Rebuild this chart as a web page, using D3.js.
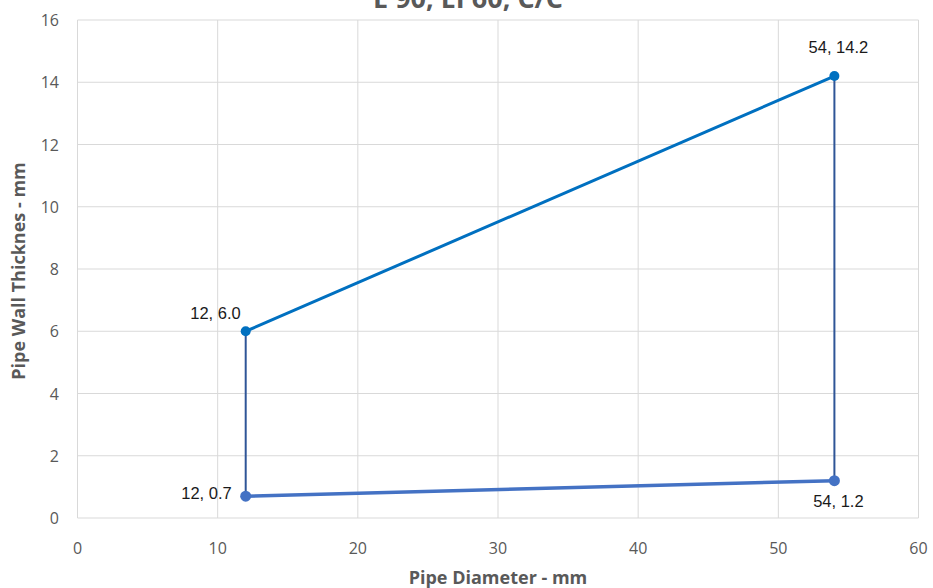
<!DOCTYPE html>
<html><head><meta charset="utf-8">
<script src="https://cdn.jsdelivr.net/npm/d3@7"></script>
<style>body{margin:0;background:#fff}svg{display:block}</style>
</head><body>
<svg id="c" width="933" height="588"></svg>
<script>
const title = "E 90, EI 60, C/C";
const xTitle = "Pipe Diameter - mm";
const yTitle = "Pipe Wall Thicknes - mm";
const xTicks = [0,10,20,30,40,50,60];
const yTicks = [0,2,4,6,8,10,12,14,16];
// series: upper limit, lower limit, verticals
const upperX = [12, 54], upperY = [6.0, 14.2];
const lowerX = [12, 54], lowerY = [0.7, 1.2];
const leftX = [12, 12], leftY = [0.7, 6.0];
const rightX = [54, 54], rightY = [1.2, 14.2];
const labels = [
  {x:12, y:6.0, t:"12, 6.0", pos:"tl"},
  {x:54, y:14.2, t:"54, 14.2", pos:"t"},
  {x:12, y:0.7, t:"12, 0.7", pos:"l"},
  {x:54, y:1.2, t:"54, 1.2", pos:"b"}
];

const svg = d3.select("#c");
const x = d3.scaleLinear().domain([0,60]).range([77.5,918.5]);
const y = d3.scaleLinear().domain([0,16]).range([518,20]);

const grid = svg.append("g");
grid.selectAll("line.v").data(xTicks).join("line")
  .attr("x1",d=>x(d)).attr("x2",d=>x(d)).attr("y1",y(0)).attr("y2",y(16))
  .attr("stroke","#d9d9d9").attr("stroke-width",1);
grid.selectAll("line.h").data(yTicks).join("line")
  .attr("y1",d=>y(d)).attr("y2",d=>y(d)).attr("x1",x(0)).attr("x2",x(60))
  .attr("stroke","#d9d9d9").attr("stroke-width",1);

const font = "'Open Sans', sans-serif";
svg.append("g").selectAll("text").data(xTicks).join("text")
  .attr("x",d=>x(d)).attr("y",554).attr("text-anchor","middle")
  .attr("font-family",font).attr("font-size",16).attr("fill","#595959").text(d=>d);
svg.append("g").selectAll("text").data(yTicks).join("text")
  .attr("x",59).attr("y",d=>y(d)+6).attr("text-anchor","end")
  .attr("font-family",font).attr("font-size",16).attr("fill","#595959").text(d=>d);

const line = d3.line().x(d=>x(d[0])).y(d=>y(d[1]));
const pairs = (xs,ys)=>xs.map((v,i)=>[v,ys[i]]);
svg.append("path").attr("d",line(pairs(leftX,leftY))).attr("fill","none").attr("stroke","#2F5597").attr("stroke-width",2);
svg.append("path").attr("d",line(pairs(rightX,rightY))).attr("fill","none").attr("stroke","#2F5597").attr("stroke-width",2);
svg.append("path").attr("d",line(pairs(upperX,upperY))).attr("fill","none").attr("stroke","#0070C0").attr("stroke-width",3);
svg.append("path").attr("d",line(pairs(lowerX,lowerY))).attr("fill","none").attr("stroke","#4472C4").attr("stroke-width",3.5);

svg.append("g").selectAll("circle").data(pairs(upperX,upperY)).join("circle")
  .attr("cx",d=>x(d[0])).attr("cy",d=>y(d[1])).attr("r",5).attr("fill","#0070C0");
svg.append("g").selectAll("circle").data(pairs(lowerX,lowerY)).join("circle")
  .attr("cx",d=>x(d[0])).attr("cy",d=>y(d[1])).attr("r",5.5).attr("fill","#4472C4");

svg.append("g").selectAll("text").data(labels).join("text")
  .attr("x",d=>x(d.x) + (d.pos==="tl"?-5:d.pos==="l"?-14:d.pos==="t"?4:4))
  .attr("y",d=>y(d.y) + (d.pos==="tl"?-12:d.pos==="t"?-23:d.pos==="l"?3:d.pos==="b"?26:0))
  .attr("text-anchor",d=>(d.pos==="tl"||d.pos==="l")?"end":"middle")
  .attr("font-family","'Liberation Sans', Arial, sans-serif").attr("font-size",16.5).attr("fill","#1a1a1a")
  .text(d=>d.t);

svg.append("text").attr("x",468).attr("y",8).attr("text-anchor","middle")
  .attr("font-family",font).attr("font-weight","bold").attr("font-size",27).attr("fill","#595959").text(title);
svg.append("text").attr("x",498).attr("y",584).attr("text-anchor","middle")
  .attr("font-family",font).attr("font-weight","bold").attr("font-size",18).attr("fill","#595959").text(xTitle);
svg.append("text").attr("transform","translate(25,271) rotate(-90)").attr("text-anchor","middle")
  .attr("font-family",font).attr("font-weight","bold").attr("font-size",18).attr("fill","#595959").text(yTitle);
</script>
</body></html>
